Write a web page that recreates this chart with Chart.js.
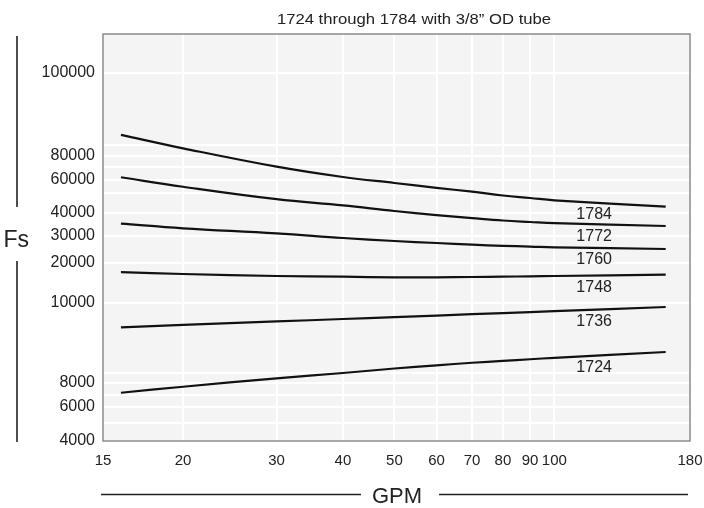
<!DOCTYPE html>
<html>
<head>
<meta charset="utf-8">
<script src="https://cdn.jsdelivr.net/npm/chart.js@4.4.1/dist/chart.umd.min.js"></script>
<style>
    html, body { margin: 0; padding: 0; background: #fff; }
    #wrap { width: 704px; height: 508px; }
</style>
</head>
<body>
<div id="wrap"><canvas id="fsChart" width="704" height="508"></canvas></div>
<script>
// GPM sample points along each curve
const gpm = [16, 20, 30, 40, 50, 60, 70, 80, 90, 100, 162];

// Fs for each model
const fs1784 = [91400, 87000, 70300, 62300, 57700, 54000, 51000, 48750, 47500, 46350, 43150];
const fs1772 = [62100, 54800, 46900, 43800, 41000, 39100, 37800, 36740, 36090, 35570, 34350];
const fs1760 = [35350, 33350, 31170, 29260, 28150, 27410, 26780, 26370, 26080, 25810, 25190];
const fs1748 = [17700, 17250, 16750, 16580, 16420, 16420, 16500, 16580, 16680, 16750, 17080];
const fs1736 = [9653, 9686, 9736, 9771, 9799, 9820, 9840, 9856, 9870, 9884, 9943];
const fs1724 = [7190, 7690, 8470, 9000, 9064, 9110, 9146, 9173, 9196, 9217, 9300];

const modelNames = ['1784', '1772', '1760', '1748', '1736', '1724'];
const modelSeries = [fs1784, fs1772, fs1760, fs1748, fs1736, fs1724];

const xTickValues = [15, 20, 30, 40, 50, 60, 70, 80, 90, 100, 180];
const yTickValues = [4000, 5000, 6000, 7000, 8000, 9000, 10000, 20000, 30000, 40000,
    50000, 60000, 70000, 80000, 90000, 100000];
const yTickLabelled = [4000, 6000, 8000, 10000, 20000, 30000, 40000, 60000, 80000, 100000];

const titleText = '1724 through 1784 with 3/8\u201D OD tube';
const LABEL_GPM = 110;

// The printed axes are not uniform, so the scale maps values through stops
class PiecewiseScale extends Chart.Scale {
    determineDataLimits() {
        const v = this.options.stopValues;
        this.min = v[0];
        this.max = v[v.length - 1];
    }
    buildTicks() {
        return this.options.tickValues.map(v => ({ value: v }));
    }
    getLabelForValue(v) {
        return String(v);
    }
    _fn(v) {
        return this.options.logSegments ? Math.log(v) : v;
    }
    _toDecimal(v) {
        const vals = this.options.stopValues;
        const decs = this.options.stopDecimals;
        let i = 1;
        while (i < vals.length - 1 && v > vals[i]) i++;
        const a = this._fn(vals[i - 1]), b = this._fn(vals[i]);
        return decs[i - 1] + (this._fn(v) - a) / (b - a) * (decs[i] - decs[i - 1]);
    }
    getPixelForValue(v) {
        return this.getPixelForDecimal(this._toDecimal(v));
    }
    getValueForPixel(px) {
        const d = this.getDecimalForPixel(px);
        const vals = this.options.stopValues;
        const decs = this.options.stopDecimals;
        let i = 1;
        while (i < decs.length - 1 && d > decs[i]) i++;
        const a = this._fn(vals[i - 1]), b = this._fn(vals[i]);
        const f = a + (d - decs[i - 1]) / (decs[i] - decs[i - 1]) * (b - a);
        return this.options.logSegments ? Math.exp(f) : f;
    }
}
PiecewiseScale.id = 'piecewise';
PiecewiseScale.defaults = {};
Chart.register(PiecewiseScale);

Chart.defaults.font.family = '"Liberation Sans", Arial, Helvetica, sans-serif';
Chart.defaults.color = '#222';

const decorPlugin = {
    id: 'decor',
    beforeDraw(chart) {
        const { ctx, chartArea: a } = chart;
        ctx.save();
        ctx.fillStyle = '#f4f4f4';
        ctx.fillRect(a.left, a.top, a.right - a.left, a.bottom - a.top);
        ctx.restore();
    },
    afterDraw(chart) {
        const { ctx, chartArea: a } = chart;
        const xScale = chart.scales.x;
        ctx.save();

        // frame
        ctx.strokeStyle = '#8a8a8a';
        ctx.lineWidth = 1.5;
        ctx.strokeRect(a.left, a.top, a.right - a.left, a.bottom - a.top);

        // title (slightly wide face in the original)
        ctx.fillStyle = '#222';
        ctx.font = '14px "Liberation Sans", Arial, sans-serif';
        ctx.textAlign = 'center';
        ctx.textBaseline = 'alphabetic';
        ctx.save();
        ctx.translate(414, 23.5);
        ctx.scale(1.19, 1);
        ctx.fillText(titleText, 0, 0);
        ctx.restore();

        // y axis name with rules
        ctx.font = '23px "Liberation Sans", Arial, sans-serif';
        ctx.textAlign = 'left';
        ctx.fillText('Fs', 3.5, 246.5);
        ctx.strokeStyle = '#222';
        ctx.lineWidth = 1.6;
        ctx.beginPath();
        ctx.moveTo(17, 36); ctx.lineTo(17, 207);
        ctx.moveTo(17, 261); ctx.lineTo(17, 442);
        ctx.stroke();

        // x axis name with rules
        ctx.font = '22px "Liberation Sans", Arial, sans-serif';
        ctx.textAlign = 'center';
        ctx.fillText('GPM', 397, 503);
        ctx.beginPath();
        ctx.moveTo(101, 494.5); ctx.lineTo(361, 494.5);
        ctx.moveTo(439, 494.5); ctx.lineTo(688, 494.5);
        ctx.stroke();

        // curve names, just under each curve
        const lx = xScale.getPixelForValue(LABEL_GPM);
        const probe = lx + 18;
        ctx.font = '16px "Liberation Sans", Arial, sans-serif';
        ctx.textAlign = 'left';
        ctx.textBaseline = 'middle';
        modelNames.forEach((name, i) => {
            const pts = chart.getDatasetMeta(i).data;
            let y = pts[pts.length - 1].y;
            for (let k = 1; k < pts.length; k++) {
                if (pts[k].x >= probe) {
                    const p0 = pts[k - 1], p1 = pts[k];
                    y = p0.y + (probe - p0.x) / (p1.x - p0.x) * (p1.y - p0.y);
                    break;
                }
            }
            ctx.fillText(name, lx, y + 12);
        });
        ctx.restore();
    }
};

const datasets = modelNames.map((name, i) => ({
    label: name,
    data: gpm.map((g, k) => ({ x: g, y: modelSeries[i][k] })),
    borderColor: '#111',
    borderWidth: 2.2,
    pointRadius: 0,
    tension: 0.4,
    fill: false
}));

new Chart(document.getElementById('fsChart'), {
    type: 'line',
    data: { datasets },
    options: {
        responsive: false,
        animation: false,
        layout: { padding: { top: 34, right: 14, bottom: 0, left: 0 } },
        plugins: {
            legend: { display: false },
            tooltip: { enabled: false },
            title: { display: false }
        },
        scales: {
            x: {
                type: 'piecewise',
                position: 'bottom',
                stopValues: [15, 20, 180],
                stopDecimals: [0, 0.1363, 1],
                logSegments: true,
                tickValues: xTickValues,
                grid: { color: '#ffffff', lineWidth: 2, drawTicks: false },
                border: { display: false },
                ticks: {
                    autoSkip: false,
                    maxRotation: 0,
                    padding: 11,
                    color: '#222',
                    font: { size: 15 },
                    callback: v => String(v)
                },
                afterFit: s => { s.height = 67; s.paddingLeft = 0; s.paddingRight = 0; }
            },
            y: {
                type: 'piecewise',
                position: 'left',
                stopValues: [4000, 5000, 6000, 7000, 8000, 9000, 10000, 20000, 30000, 40000,
                    50000, 60000, 70000, 80000, 90000, 100000, 120000],
                stopDecimals: [0, 0.0442, 0.0835, 0.1130, 0.1425, 0.1671, 0.3391, 0.4373, 0.5037,
                    0.5602, 0.6093, 0.6413, 0.6732, 0.7002, 0.7273, 0.9042, 1],
                logSegments: false,
                tickValues: yTickValues,
                grid: { color: '#ffffff', lineWidth: 2, drawTicks: false },
                border: { display: false },
                ticks: {
                    autoSkip: false,
                    padding: 8,
                    color: '#222',
                    font: { size: 16 },
                    callback: v => yTickLabelled.includes(v) ? String(v) : ''
                },
                afterFit: s => { s.width = 103; s.paddingTop = 0; s.paddingBottom = 0; }
            }
        }
    },
    plugins: [decorPlugin]
});
</script>
</body>
</html>
